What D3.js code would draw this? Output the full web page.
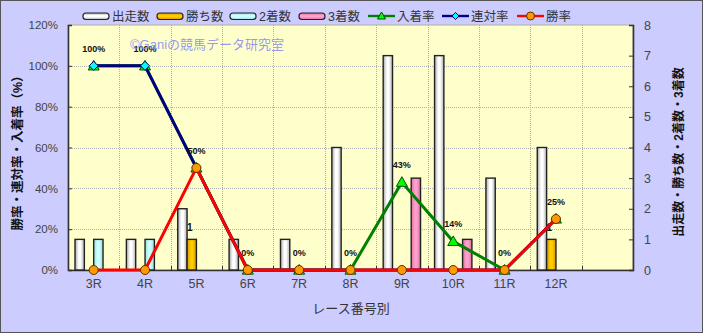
<!DOCTYPE html>
<html>
<head>
<meta charset="utf-8">
<script src="https://cdn.jsdelivr.net/npm/d3@7"></script>
<style>
  html, body { margin: 0; padding: 0; background: #ccccff; }
  svg { display: block; }
  text { font-family: "Liberation Sans", Arial, "Noto Sans CJK JP", sans-serif; }
</style>
</head>
<body>
<svg id="chart" width="703" height="333"></svg>
<script>
// Race-number breakdown
const races    = ["3R", "4R", "5R", "6R", "7R", "8R", "9R", "10R", "11R", "12R"];
const starts   = [1, 1, 2, 1, 1, 4, 7, 7, 3, 4];   // 出走数
const wins     = [0, 0, 1, 0, 0, 0, 0, 0, 0, 1];   // 勝ち数
const seconds  = [1, 1, 0, 0, 0, 0, 0, 0, 0, 0];   // 2着数
const thirds   = [0, 0, 0, 0, 0, 0, 3, 1, 0, 0];   // 3着数
const placeRate = [100, 100, 50, 0, 0, 0, 43, 14, 0, 25]; // 入着率 (%)
const top2Rate  = [100, 100, 50, 0, 0, 0, 0, 0, 0, 25];   // 連対率 (%)
const winRate   = [0, 0, 50, 0, 0, 0, 0, 0, 0, 25];       // 勝率 (%)
const pctTicks = [0, 20, 40, 60, 80, 100, 120];
const cntTicks = [0, 1, 2, 3, 4, 5, 6, 7, 8];

const barSeries = [
  { name: "出走数", values: starts,  grad: "gWhite" },
  { name: "勝ち数", values: wins,    grad: "gGold" },
  { name: "2着数",  values: seconds, grad: "gCyan" },
  { name: "3着数",  values: thirds,  grad: "gPink" }
];
const lineSeries = [
  { name: "入着率", values: placeRate, color: "#008000", marker: "triangle", fill: "#00ff00", mstroke: "#005000" },
  { name: "連対率", values: top2Rate,  color: "#000080", marker: "diamond",  fill: "#00ffff", mstroke: "#000060" },
  { name: "勝率",   values: winRate,   color: "#ff0000", marker: "circle",   fill: "#ff9900", mstroke: "#603000" }
];

const svg = d3.select("#chart");
const W = 703, H = 333;
const plot = { left: 68, right: 633, top: 25, bottom: 270 };

// background and frame
svg.append("rect").attr("x", 0.5).attr("y", 0.5).attr("width", W - 1).attr("height", H - 1)
  .attr("fill", "#ccccff").attr("stroke", "#555").attr("stroke-width", 1);

// gradients
const defs = svg.append("defs");
function grad(id, stops, vertical) {
  const g = defs.append("linearGradient").attr("id", id)
    .attr("x1", 0).attr("y1", 0).attr("x2", vertical ? 0 : 1).attr("y2", vertical ? 1 : 0);
  stops.forEach(s => g.append("stop").attr("offset", s[0]).attr("stop-color", s[1]));
}
const gradStops = {
  gWhite: [["0%", "#a8a8a8"], ["40%", "#ffffff"], ["60%", "#ffffff"], ["100%", "#b0b0b0"]],
  gGold:  [["0%", "#d09a00"], ["40%", "#ffcc00"], ["60%", "#ffcc00"], ["100%", "#d09a00"]],
  gCyan:  [["0%", "#99dddd"], ["40%", "#ccffff"], ["60%", "#ccffff"], ["100%", "#99dddd"]],
  gPink:  [["0%", "#d9709f"], ["40%", "#ff9fcc"], ["60%", "#ff9fcc"], ["100%", "#d9709f"]]
};
Object.entries(gradStops).forEach(([id, st]) => { grad(id, st, false); grad(id + "V", st, true); });

// scales: an extra empty slot follows the last race
const slots = races.concat([""]);
const x = d3.scaleBand().domain(d3.range(slots.length)).range([plot.left, plot.right]).padding(0);
const xSub = d3.scaleBand().domain(d3.range(barSeries.length)).range([0, x.bandwidth()])
  .paddingInner(0).paddingOuter(0.75);
const yPct = d3.scaleLinear().domain([0, 120]).range([plot.bottom, plot.top]);
const yCnt = d3.scaleLinear().domain([0, 8]).range([plot.bottom, plot.top]);

// plot area
svg.append("rect").attr("x", plot.left).attr("y", plot.top)
  .attr("width", plot.right - plot.left).attr("height", plot.bottom - plot.top)
  .attr("fill", "#ffffcc").attr("stroke", "#b0b0a0").attr("stroke-width", 1);

// gridlines
const grid = svg.append("g").attr("stroke", "#b0b0b0").attr("stroke-width", 1).attr("stroke-dasharray", "1,1");
pctTicks.filter(t => t > 0 && t < 120).forEach(t => {
  grid.append("line").attr("x1", plot.left).attr("x2", plot.right)
    .attr("y1", Math.round(yPct(t)) + 0.5).attr("y2", Math.round(yPct(t)) + 0.5);
});
d3.range(1, slots.length).forEach(i => {
  const gx = Math.round(x(i)) + 0.5;
  grid.append("line").attr("x1", gx).attr("x2", gx).attr("y1", plot.top).attr("y2", plot.bottom);
});

// axes
const axisColor = "#333";
const left = svg.append("g").attr("transform", `translate(${plot.left},0)`)
  .call(d3.axisLeft(yPct).tickValues(pctTicks).tickSize(-4).tickPadding(10).tickFormat(d => d + "%"));
const right = svg.append("g").attr("transform", `translate(${plot.right},0)`)
  .call(d3.axisRight(yCnt).tickValues(cntTicks).tickSize(-4).tickPadding(11));
const bottom = svg.append("g").attr("transform", `translate(0,${plot.bottom})`)
  .call(d3.axisBottom(x).tickSize(0).tickPadding(9).tickFormat(i => slots[i]));
[left, right, bottom].forEach(a => {
  a.select(".domain").attr("stroke", axisColor).attr("stroke-width", 1.6);
  a.selectAll(".tick line").attr("stroke", axisColor).attr("stroke-width", 1);
  a.selectAll(".tick text").attr("fill", "#444").style("font-size", "11.5px")
    .style("font-family", '"Liberation Sans", Arial, sans-serif');
});
bottom.selectAll(".tick text").style("font-size", "12.5px");
right.selectAll(".tick text").style("font-size", "12.5px");
// inward ticks at category boundaries on the category axis
bottom.selectAll(".boundary").data(d3.range(1, slots.length)).join("line")
  .attr("x1", i => Math.round(x(i)) + 0.5).attr("x2", i => Math.round(x(i)) + 0.5)
  .attr("y1", 0).attr("y2", -4).attr("stroke", axisColor);

// bars
const barG = svg.append("g");
barSeries.forEach((s, si) => {
  barG.selectAll(null).data(s.values.map((v, i) => ({ v, i }))).join("rect")
    .filter(d => d.v > 0)
    .attr("x", d => x(d.i) + xSub(si))
    .attr("y", d => yCnt(d.v))
    .attr("width", xSub.bandwidth())
    .attr("height", d => yCnt(0) - yCnt(d.v))
    .attr("fill", `url(#${s.grad})`)
    .attr("stroke", "#222").attr("stroke-width", 1.4);
});

// win-count labels
svg.append("g").selectAll("text").data(wins.map((v, i) => ({ v, i })).filter(d => d.v > 0)).join("text")
  .attr("x", d => x(d.i) + xSub(1) + xSub.bandwidth() / 2 - 2)
  .attr("y", d => yCnt(d.v) - 8)
  .attr("text-anchor", "middle")
  .style("font-size", "10px").style("font-weight", "bold").attr("fill", "#111")
  .text(d => d.v);

// rate lines and markers
const cx = i => x(i) + x.bandwidth() / 2;
function marker(g, type, px, py, fill, stroke) {
  if (type === "circle") {
    g.append("circle").attr("cx", px).attr("cy", py).attr("r", 4.5)
      .attr("fill", fill).attr("stroke", stroke).attr("stroke-width", 1);
  } else if (type === "diamond") {
    const r = 4.5;
    g.append("path").attr("d", `M${px},${py - r}L${px + r},${py}L${px},${py + r}L${px - r},${py}Z`)
      .attr("fill", fill).attr("stroke", stroke).attr("stroke-width", 1);
  } else {
    const r = 5.5;
    g.append("path").attr("d", `M${px},${py - r}L${px + r},${py + r * 0.75}L${px - r},${py + r * 0.75}Z`)
      .attr("fill", fill).attr("stroke", stroke).attr("stroke-width", 1);
  }
}
const lineGen = d3.line().x((d, i) => cx(i)).y(d => yPct(d));
lineSeries.forEach(s => {
  const g = svg.append("g");
  g.append("path").datum(s.values).attr("d", lineGen)
    .attr("fill", "none").attr("stroke", s.color).attr("stroke-width", 3).attr("stroke-linejoin", "round");
  s.values.forEach((v, i) => marker(g, s.marker, cx(i), yPct(v), s.fill, s.mstroke));
});

// place-rate labels
svg.append("g").selectAll("text").data(placeRate).join("text")
  .attr("x", (d, i) => cx(i))
  .attr("y", d => yPct(d) - 14)
  .attr("text-anchor", "middle")
  .style("font-size", "9px").style("font-weight", "bold").attr("fill", "#111")
  .text(d => d + "%");

// watermark
svg.append("text").attr("x", 130).attr("y", 49)
  .style("font-size", "13px").attr("fill", "#8c8cf0").attr("fill-opacity", 0.9)
  .text("©Ganiの競馬データ研究室");

// axis titles
svg.append("text").attr("transform", "translate(22,150) rotate(-90)")
  .attr("text-anchor", "middle").style("font-size", "12.5px").style("font-weight", "bold").attr("fill", "#111")
  .text("勝率・連対率・入着率（%）");
svg.append("text").attr("transform", "translate(683,152) rotate(-90)")
  .attr("text-anchor", "middle").style("font-size", "12px").style("font-weight", "bold").attr("fill", "#111")
  .text("出走数・勝ち数・2着数・3着数");
svg.append("text").attr("x", 351).attr("y", 313)
  .attr("text-anchor", "middle").style("font-size", "13px").attr("fill", "#333")
  .text("レース番号別");

// legend
const lg = svg.append("g");
const barLegendX = [83, 157, 230, 299];
barSeries.forEach((s, i) => {
  lg.append("rect").attr("x", barLegendX[i]).attr("y", 13).attr("width", 26).attr("height", 6.5)
    .attr("rx", 3).attr("fill", `url(#${s.grad}V)`).attr("stroke", "#222").attr("stroke-width", 1.2);
  lg.append("text").attr("x", barLegendX[i] + 29).attr("y", 20.5)
    .style("font-size", "12.5px").attr("fill", "#333").text(s.name);
});
const lineLegendX = [368, 442, 517];
lineSeries.forEach((s, i) => {
  lg.append("line").attr("x1", lineLegendX[i]).attr("x2", lineLegendX[i] + 27)
    .attr("y1", 16).attr("y2", 16).attr("stroke", s.color).attr("stroke-width", 2.4);
  const mg = lg.append("g");
  if (s.marker === "triangle") {
    const px = lineLegendX[i] + 13.5, r = 4;
    mg.append("path").attr("d", `M${px},${16 - r}L${px + r},${16 + r * 0.75}L${px - r},${16 + r * 0.75}Z`)
      .attr("fill", s.fill).attr("stroke", s.mstroke);
  } else if (s.marker === "diamond") {
    const px = lineLegendX[i] + 13.5, r = 3.5;
    mg.append("path").attr("d", `M${px},${16 - r}L${px + r},16L${px},${16 + r}L${px - r},16Z`)
      .attr("fill", s.fill).attr("stroke", s.mstroke);
  } else {
    mg.append("circle").attr("cx", lineLegendX[i] + 13.5).attr("cy", 16).attr("r", 4)
      .attr("fill", s.fill).attr("stroke", s.mstroke);
  }
  lg.append("text").attr("x", lineLegendX[i] + 29).attr("y", 20.5)
    .style("font-size", "12.5px").attr("fill", "#333").text(s.name);
});
</script>
</body>
</html>
